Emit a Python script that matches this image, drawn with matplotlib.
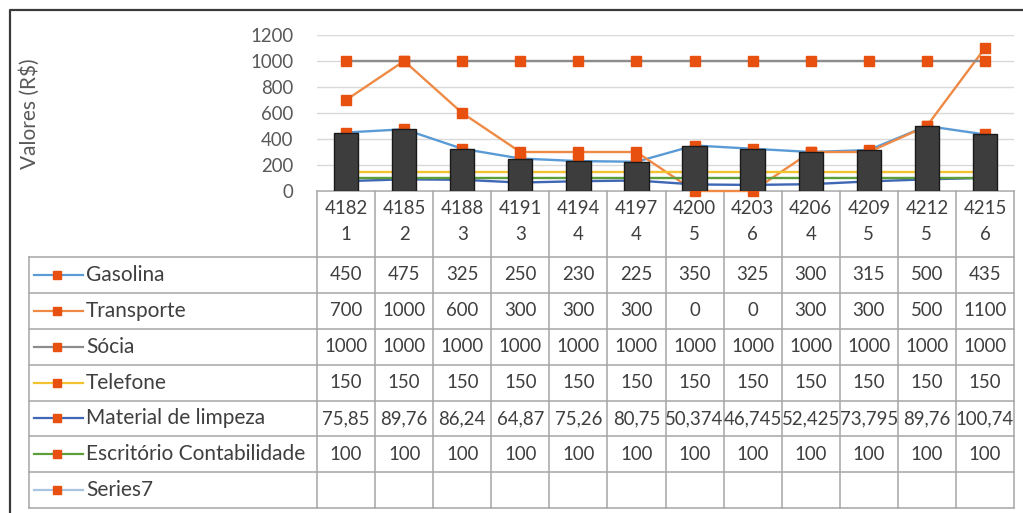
import matplotlib

matplotlib.use("Agg")
import matplotlib.pyplot as plt
import numpy as np

plt.rcParams["font.family"] = ["Lato", "DejaVu Sans"]

# data
CATEGORIES = [41821, 41852, 41883, 41913, 41944, 41974,
              42005, 42036, 42064, 42095, 42125, 42156]
GASOLINA = [450, 475, 325, 250, 230, 225, 350, 325, 300, 315, 500, 435]
TRANSPORTE = [700, 1000, 600, 300, 300, 300, 0, 0, 300, 300, 500, 1100]
SOCIA = [1000] * 12
TELEFONE = [150] * 12
MATERIAL = [75.85, 89.76, 86.24, 64.87, 75.26, 80.75,
            50.374, 46.745, 52.425, 73.795, 89.76, 100.74]
ESCRITORIO = [100] * 12
SERIES7 = [None] * 12
Y_TICKS = [0, 200, 400, 600, 800, 1000, 1200]

SERIES = [
    ("Gasolina", GASOLINA, "#5B9BD5"),
    ("Transporte", TRANSPORTE, "#EE8A45"),
    ("Sócia", SOCIA, "#8C8C8C"),
    ("Telefone", TELEFONE, "#F2C230"),
    ("Material de limpeza", MATERIAL, "#3F67B5"),
    ("Escritório Contabilidade", ESCRITORIO, "#5E9E3A"),
    ("Series7", SERIES7, "#A9C4E0"),
]
MARKER_COLOR = "#E8500F"
TEXT_COLOR = "#3f3f3f"
GRID_COLOR = "#A6A6A6"

W, H = 1023, 513
fig = plt.figure(figsize=(W / 100, H / 100), dpi=100)
fig.patch.set_facecolor("white")

# pixel layout
X0, X1 = 317, 1014          # plot / table columns
Y_ZERO, Y_TOP = 191, 35     # value axis 0 and 1200
HEAD_BOTTOM = 256.7
ROW_H = 35.95
LEG_X0 = 29

# overlay in pixel coordinates for the data table and frame
tab = fig.add_axes([0, 0, 1, 1], zorder=0)
tab.set_xlim(0, W)
tab.set_ylim(H, 0)
tab.axis("off")

# outer frame
tab.plot([10, 10, W], [H, 10, 10], color="#3a3a3a", lw=1.6, solid_capstyle="butt")

n = len(CATEGORIES)
col_w = (X1 - X0) / n
n_rows = len(SERIES)
table_bottom = HEAD_BOTTOM + n_rows * ROW_H
FS = 13.4       # numbers
FS_TXT = 15     # words

# header cells
for i in range(n + 1):
    x = X0 + i * col_w
    tab.plot([x, x], [Y_ZERO, table_bottom], color=GRID_COLOR, lw=1.1)
tab.plot([X0, X1], [Y_ZERO, Y_ZERO], color=GRID_COLOR, lw=1.1)
for i, cat in enumerate(CATEGORIES):
    s = str(cat)
    xc = X0 + (i + 0.5) * col_w
    tab.text(xc, 209, s[:4], ha="center", va="center", fontsize=FS, color=TEXT_COLOR)
    tab.text(xc, 235, s[4:], ha="center", va="center", fontsize=FS, color=TEXT_COLOR)

# data rows
for r in range(n_rows + 1):
    y = HEAD_BOTTOM + r * ROW_H
    tab.plot([LEG_X0, X1], [y, y], color=GRID_COLOR, lw=1.1)
tab.plot([LEG_X0, LEG_X0], [HEAD_BOTTOM, table_bottom], color=GRID_COLOR, lw=1.1)

for r, (name, vals, color) in enumerate(SERIES):
    yc = HEAD_BOTTOM + (r + 0.5) * ROW_H
    tab.plot([34, 83], [yc, yc], color=color, lw=1.6)
    tab.plot([57], [yc], marker="s", ms=5.5, color=MARKER_COLOR, lw=0)
    tab.text(86, yc, name, ha="left", va="center", fontsize=FS_TXT, color=TEXT_COLOR)
    for i, v in enumerate(vals):
        if v is None:
            continue
        txt = f"{v:g}".replace(".", ",")
        tab.text(X0 + (i + 0.5) * col_w, yc, txt, ha="center", va="center",
                 fontsize=FS, color=TEXT_COLOR)

tab.text(30, 114, "Valores (R$)", rotation=90, ha="center", va="center",
         fontsize=FS_TXT, color="#595959")

# chart area
ax = fig.add_axes([X0 / W, (H - Y_ZERO) / H, (X1 - X0) / W, (Y_ZERO - Y_TOP) / H],
                  zorder=1)
ax.set_facecolor("none")
x = np.arange(n)
for name, vals, color in SERIES:
    if all(v is None for v in vals):
        continue
    ax.plot(x, vals, color=color, lw=1.7, marker="s", ms=7.5,
            mfc=MARKER_COLOR, mec=MARKER_COLOR, clip_on=False, zorder=2)
ax.bar(x, GASOLINA, width=0.42, color="#3d3d3d", edgecolor="#1a1a1a",
       lw=1.0, zorder=3)

ax.set_xlim(-0.5, n - 0.5)
ax.set_ylim(0, 1200)
ax.set_yticks(Y_TICKS)
ax.set_xticks([])
ax.tick_params(axis="y", length=0, pad=17, labelsize=FS, labelcolor="#595959")
ax.grid(axis="y", color="#D9D9D9", lw=1.0, zorder=0)
ax.set_axisbelow(True)
for sp in ax.spines.values():
    sp.set_visible(False)

fig.savefig("out.png", dpi=100, facecolor="white")
